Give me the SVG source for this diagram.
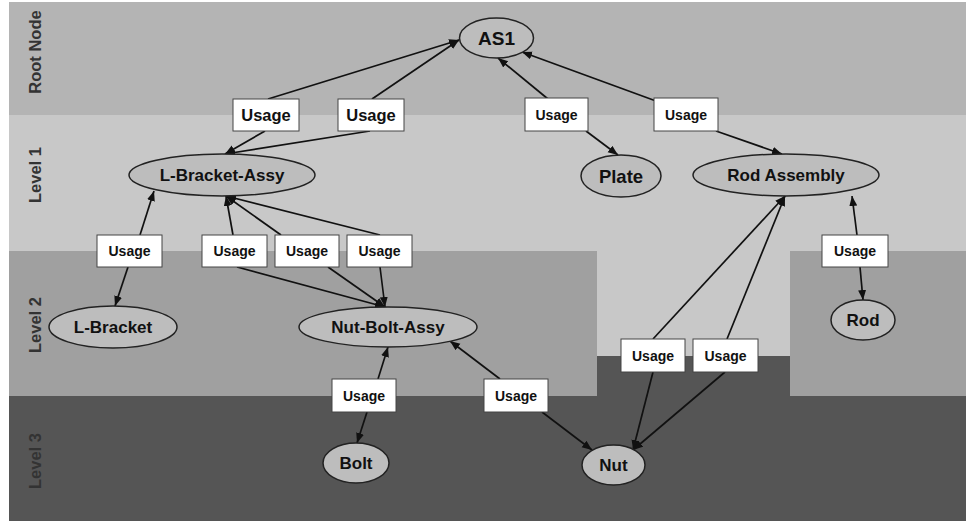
<svg xmlns="http://www.w3.org/2000/svg" width="966" height="521" viewBox="0 0 966 521">
<defs>
<style>
.lvl{font-family:"Liberation Sans",Arial,sans-serif;font-weight:bold;font-size:16.5px;fill:#333;text-anchor:middle;dominant-baseline:central}
.node ellipse{fill:#bdbdbd;stroke:#222;stroke-width:1.5}
.node text{font-family:"Liberation Sans",Arial,sans-serif;font-weight:bold;font-size:17px;fill:#111;text-anchor:middle;dominant-baseline:central}
.usage rect{fill:#fff;stroke:#444;stroke-width:1}
.usage text{font-family:"Liberation Sans",Arial,sans-serif;font-weight:bold;font-size:14px;fill:#111;text-anchor:middle;dominant-baseline:central}
.usage.big text{font-size:16.5px}
#connectors line{stroke:#111;stroke-width:1.7;fill:none;marker-end:url(#arr)}
</style>
<marker id="arr" markerUnits="userSpaceOnUse" markerWidth="11" markerHeight="9" refX="10" refY="4" orient="auto">
<path d="M0,0 L10,4 L0,8 z" fill="#111"/>
</marker>
</defs>

<g id="background">
<rect x="0" y="0" width="966" height="521" fill="#fff"/>
<rect x="9" y="2" width="957" height="113" fill="#b4b4b4"/>
<rect x="9" y="115" width="957" height="136" fill="#c8c8c8"/>
<rect x="9" y="251" width="588" height="145" fill="#a0a0a0"/>
<rect x="597" y="251" width="193" height="105" fill="#c8c8c8"/>
<rect x="597" y="356" width="193" height="40" fill="#555"/>
<rect x="790" y="251" width="176" height="145" fill="#a0a0a0"/>
<rect x="9" y="396" width="957" height="125" fill="#555"/>
</g>

<g id="levels">
<text class="lvl" transform="translate(35,52) rotate(-90)">Root Node</text>
<text class="lvl" transform="translate(35,175) rotate(-90)">Level 1</text>
<text class="lvl" transform="translate(35,325) rotate(-90)">Level 2</text>
<text class="lvl" transform="translate(35,461) rotate(-90)">Level 3</text>
</g>

<g id="connectors">
<line x1="268" y1="99" x2="459" y2="40"/>
<line x1="265" y1="131" x2="225" y2="154"/>
<line x1="372" y1="99" x2="459" y2="40"/>
<line x1="370" y1="131" x2="225" y2="154"/>
<line x1="548" y1="99" x2="498" y2="58"/>
<line x1="586" y1="131" x2="618" y2="155"/>
<line x1="656" y1="101" x2="522" y2="52"/>
<line x1="716" y1="131" x2="782" y2="154"/>
<line x1="140" y1="235" x2="154" y2="191"/>
<line x1="128" y1="267" x2="115" y2="306"/>
<line x1="233" y1="235" x2="226" y2="196"/>
<line x1="281" y1="235" x2="226" y2="196"/>
<line x1="380" y1="235" x2="226" y2="196"/>
<line x1="237" y1="267" x2="385" y2="307"/>
<line x1="328" y1="267" x2="385" y2="307"/>
<line x1="380" y1="267" x2="385" y2="307"/>
<line x1="857" y1="235" x2="852" y2="196"/>
<line x1="860" y1="267" x2="863" y2="300"/>
<line x1="653" y1="339" x2="785" y2="196"/>
<line x1="727" y1="339" x2="785" y2="196"/>
<line x1="653" y1="372" x2="633" y2="450"/>
<line x1="725" y1="372" x2="633" y2="450"/>
<line x1="378" y1="379" x2="388" y2="347"/>
<line x1="367" y1="412" x2="357" y2="443"/>
<line x1="500" y1="379" x2="450" y2="341"/>
<line x1="542" y1="412" x2="592" y2="450"/>
</g>

<g id="n-as1" class="node"><ellipse cx="496.5" cy="38" rx="37" ry="20"/><text x="496.5" y="38" style="font-size:19px">AS1</text></g>
<g id="n-lbracket-assy" class="node"><ellipse cx="222" cy="175" rx="93" ry="21"/><text x="222" y="175">L-Bracket-Assy</text></g>
<g id="n-plate" class="node"><ellipse cx="621" cy="176" rx="40" ry="21"/><text x="621" y="176" style="font-size:18.5px">Plate</text></g>
<g id="n-rod-assembly" class="node"><ellipse cx="786" cy="175" rx="93" ry="21"/><text x="786" y="175">Rod Assembly</text></g>
<g id="n-lbracket" class="node"><ellipse cx="113" cy="327" rx="64" ry="21"/><text x="113" y="327">L-Bracket</text></g>
<g id="n-nut-bolt-assy" class="node"><ellipse cx="388" cy="327" rx="89" ry="20"/><text x="388" y="327">Nut-Bolt-Assy</text></g>
<g id="n-rod" class="node"><ellipse cx="863" cy="320" rx="32" ry="20"/><text x="863" y="320">Rod</text></g>
<g id="n-bolt" class="node"><ellipse cx="356" cy="463" rx="33" ry="20"/><text x="356" y="463">Bolt</text></g>
<g id="n-nut" class="node"><ellipse cx="613.5" cy="465" rx="31.5" ry="20"/><text x="613.5" y="465">Nut</text></g>

<g id="u1" class="usage big"><rect x="233" y="99" width="66" height="32"/><text x="266" y="115">Usage</text></g>
<g id="u2" class="usage big"><rect x="338" y="99" width="66" height="32"/><text x="371" y="115">Usage</text></g>
<g id="u3" class="usage"><rect x="525" y="98" width="63" height="33"/><text x="556.5" y="114.5">Usage</text></g>
<g id="u4" class="usage"><rect x="654" y="98" width="64" height="33"/><text x="686" y="114.5">Usage</text></g>
<g id="u5" class="usage"><rect x="97" y="235" width="65" height="32"/><text x="129.5" y="251">Usage</text></g>
<g id="u6" class="usage"><rect x="202" y="235" width="65" height="32"/><text x="234.5" y="251">Usage</text></g>
<g id="u7" class="usage"><rect x="275" y="235" width="64" height="32"/><text x="307" y="251">Usage</text></g>
<g id="u8" class="usage"><rect x="347" y="235" width="65" height="32"/><text x="379.5" y="251">Usage</text></g>
<g id="u9" class="usage"><rect x="822" y="235" width="66" height="32"/><text x="855" y="251">Usage</text></g>
<g id="u10" class="usage"><rect x="621" y="339" width="64" height="33"/><text x="653" y="355.5">Usage</text></g>
<g id="u11" class="usage"><rect x="693" y="339" width="65" height="33"/><text x="725.5" y="355.5">Usage</text></g>
<g id="u12" class="usage"><rect x="332" y="379" width="64" height="33"/><text x="364" y="395.5">Usage</text></g>
<g id="u13" class="usage"><rect x="484" y="379" width="64" height="33"/><text x="516" y="395.5">Usage</text></g>
</svg>
